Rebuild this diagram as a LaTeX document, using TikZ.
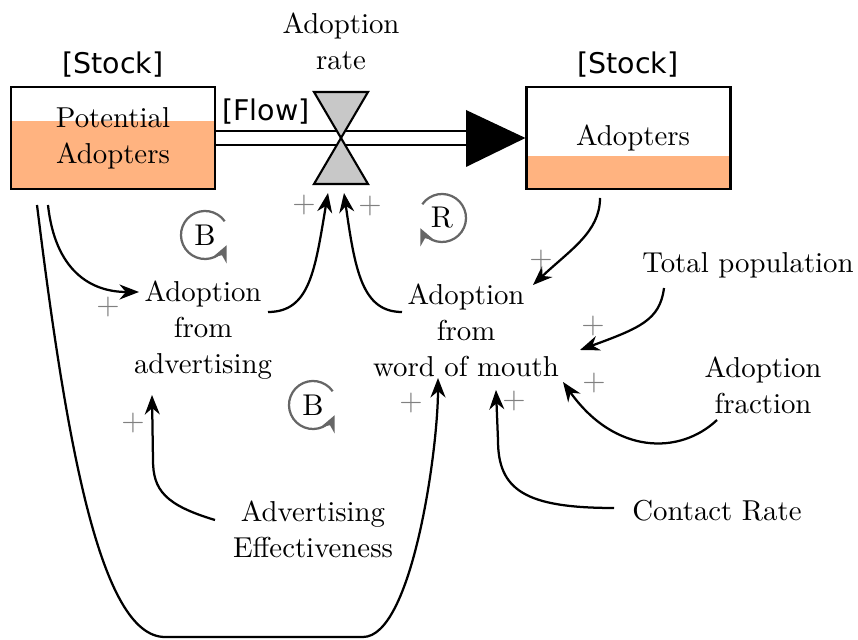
\documentclass[tikz,border=0pt]{standalone}
\usepackage{fontspec}
\newfontfamily\labelsans{DejaVu Sans}
\usetikzlibrary{arrows.meta,calc}
\definecolor{stockfill}{HTML}{FFB380}
\definecolor{valvefill}{HTML}{C8C8C8}
\definecolor{loopgray}{HTML}{666666}
\definecolor{plusgray}{HTML}{808080}
\tikzset{
  txt/.style={align=center,font=\fontsize{9.6}{12}\selectfont,inner sep=1pt},
  stockbox/.style={draw,line width=0.7pt,minimum width=68pt,minimum height=34pt,inner sep=0pt,align=center,font=\fontsize{9.6}{12}\selectfont},
  tag/.style={font=\labelsans\fontsize{9.5}{11}\selectfont,inner sep=0pt},
  conn/.style={line width=0.75pt,-{Stealth[length=6.5pt,width=5pt]}},
  pipe/.style={line width=0.7pt},
  plus/.style={text=plusgray,font=\fontsize{10}{12}\selectfont,inner sep=0pt},
  loopc/.style={draw=loopgray,line width=0.75pt,-{Stealth[length=5.5pt,width=5pt]}},
  looplbl/.style={font=\fontsize{10}{12}\selectfont,inner sep=0pt}
}
\begin{document}
\begin{tikzpicture}[x=0.33333pt,y=-0.33333pt]
\useasboundingbox (0,0) rectangle (858,640);
% stock fills
\fill[stockfill] (11,121) rectangle (215,189);
\fill[stockfill] (526,156) rectangle (731,189);
% stocks
\node[stockbox] (pa) at (113,138) {Potential\\Adopters};
\node[stockbox] (ad) at (628.5,138) {\hspace*{3pt}Adopters};
\node[tag] (pat) at (113,65) {[Stock]};
\node[tag] (adt) at (628,65) {[Stock]};
% flow pipe
\coordinate (hb) at (466,138);
\draw[pipe] ([yshift=2.33pt]pa.east) -- ([yshift=2.33pt]hb);
\draw[pipe] ([yshift=-2.33pt]pa.east) -- ([yshift=-2.33pt]hb);
\fill (466,110) -- (ad.west) -- (466,167) -- cycle;
\node[tag] (flow) at (266,112) {[Flow]};
% valve
\coordinate (valve) at (341,138);
\filldraw[fill=valvefill,line width=0.7pt,line join=miter] (314,92) -- (368,92) -- (valve) -- cycle;
\filldraw[fill=valvefill,line width=0.7pt,line join=miter] (314,184) -- (368,184) -- (valve) -- cycle;
\node[txt] (rate) at (341,41) {Adoption\\rate};
\coordinate (vl) at (328,193);
\coordinate (vr) at (344,193);
% auxiliaries
\node[txt] (adv) at (203,330) {Adoption\\from\\advertising};
\node[txt] (wom) at (466,330) {Adoption\\from\\word of mouth};
\node[txt] (tp) at (748,265) {Total population};
\node[txt] (af) at (763,385) {Adoption\\fraction};
\node[txt] (ae) at (313,529) {Advertising\\Effectiveness};
\node[txt] (cr) at (717,511) {Contact Rate};
% connector end points
\coordinate (pa1) at (48,205);
\coordinate (pa2) at (37,205);
\coordinate (advin) at (139,292);
\coordinate (advout) at (268,312);
\coordinate (womout) at (402,312);
\coordinate (womin1) at (533,285);
\coordinate (womin2) at (580,350);
\coordinate (womin3) at (563,382);
\coordinate (womin4) at (496,390);
\coordinate (womin5) at (438,378);
\coordinate (advin2) at (152,395);
\coordinate (ad1) at (600,198);
\coordinate (tp1) at (664,288);
\coordinate (af1) at (717,420);
\coordinate (cr1) at (614,508);
\coordinate (ae1) at (215,520);
% connectors
\draw[conn] (pa1) .. controls (55,270) and (90,292) .. (advin);
\draw[conn] (pa2) .. controls (66,440) and (100,637) .. (165,637) -- (363,637) .. controls (412,637) and (438,450) .. (womin5);
\draw[conn] (advout) .. controls (310,312) and (315,270) .. (vl);
\draw[conn] (womout) .. controls (362,312) and (355,270) .. (vr);
\draw[conn] (ad1) .. controls (600,232) and (570,250) .. (womin1);
\draw[conn] (tp1) .. controls (660,320) and (640,328) .. (womin2);
\draw[conn] (af1) .. controls (680,455) and (615,455) .. (womin3);
\draw[conn] (cr1) .. controls (525,508) and (498,490) .. (498,440) -- (womin4);
\draw[conn] (ae1) .. controls (165,505) and (153,490) .. (153,460) -- (advin2);
% polarity signs
\node[plus] (s1) at (304,205) {+};
\node[plus] (s2) at (370,206) {+};
\node[plus] (s3) at (108,307) {+};
\node[plus] (s4) at (541,260) {+};
\node[plus] (s5) at (593,326) {+};
\node[plus] (s6) at (594,383) {+};
\node[plus] (s7) at (411,403) {+};
\node[plus] (s8) at (514,401) {+};
\node[plus] (s9) at (133,423) {+};
% loop markers
\node[looplbl] (b1) at (205,235) {B};
\node[looplbl] (b2) at (313,405) {B};
\node[looplbl] (r1) at (442,218) {R};
\draw[loopc] ([shift={(35:8pt)}]b1.center) arc[start angle=35,end angle=335,radius=8pt];
\draw[loopc] ([shift={(35:8pt)}]b2.center) arc[start angle=35,end angle=335,radius=8pt];
\draw[loopc] ([shift={(145:8pt)}]r1.center) arc[start angle=145,end angle=-155,radius=8pt];
\end{tikzpicture}
\end{document}
